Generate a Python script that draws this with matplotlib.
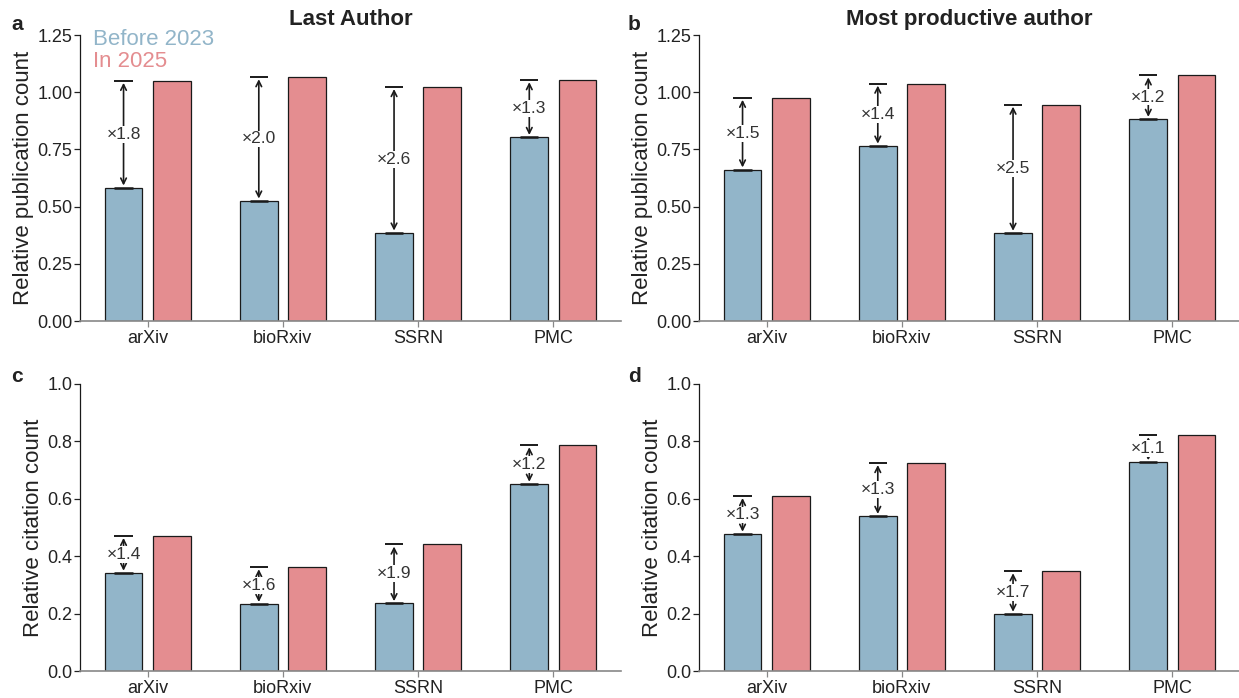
import matplotlib
matplotlib.use("Agg")
import matplotlib.pyplot as plt
import numpy as np

plt.rcParams['font.family'] = ['Liberation Sans', 'DejaVu Sans']

categories = ["arXiv", "bioRxiv", "SSRN", "PMC"]

# Panel a: Last Author, relative publication count
a_before = [0.583, 0.526, 0.386, 0.804]
a_2025 = [1.050, 1.066, 1.023, 1.053]
a_ratio = ["1.8", "2.0", "2.6", "1.3"]

# Panel b: Most productive author, relative publication count
b_before = [0.662, 0.766, 0.385, 0.883]
b_2025 = [0.976, 1.038, 0.946, 1.074]
b_ratio = ["1.5", "1.4", "2.5", "1.2"]

# Panel c: Last Author, relative citation count
c_before = [0.342, 0.233, 0.236, 0.652]
c_2025 = [0.471, 0.362, 0.441, 0.787]
c_ratio = ["1.4", "1.6", "1.9", "1.2"]

# Panel d: Most productive author, relative citation count
d_before = [0.478, 0.540, 0.199, 0.727]
d_2025 = [0.610, 0.725, 0.348, 0.822]
d_ratio = ["1.3", "1.3", "1.7", "1.1"]

legend_labels = ["Before 2023", "In 2025"]
titles = ["Last Author", "Most productive author"]
ylabels = ["Relative publication count", "Relative citation count"]

BLUE = "#92B5C9"
RED = "#E48D90"
DARK = "#222222"

fig = plt.figure(figsize=(12.39, 6.98), dpi=100)

W = 541 / 1239
H_top = 286 / 698
H_bot = 287 / 698
axes = {
    'a': fig.add_axes([80 / 1239, 1 - 321 / 698, W, H_top]),
    'b': fig.add_axes([699 / 1239, 1 - 321 / 698, W, H_top]),
    'c': fig.add_axes([80 / 1239, 1 - 671 / 698, W, H_bot]),
    'd': fig.add_axes([699 / 1239, 1 - 671 / 698, W, H_bot]),
}

panels = [
    ('a', a_before, a_2025, a_ratio, ylabels[0], (0, 1.25), [0, 0.25, 0.5, 0.75, 1.0, 1.25], "{:.2f}"),
    ('b', b_before, b_2025, b_ratio, ylabels[0], (0, 1.25), [0, 0.25, 0.5, 0.75, 1.0, 1.25], "{:.2f}"),
    ('c', c_before, c_2025, c_ratio, ylabels[1], (0, 1.0), [0, 0.2, 0.4, 0.6, 0.8, 1.0], "{:.1f}"),
    ('d', d_before, d_2025, d_ratio, ylabels[1], (0, 1.0), [0, 0.2, 0.4, 0.6, 0.8, 1.0], "{:.1f}"),
]

off = 0.178
bw = 0.28
x = np.arange(len(categories))

for key, before, after, ratio, ylabel, ylim, yticks, fmt in panels:
    ax = axes[key]
    ax.bar(x - off, before, width=bw, color=BLUE, edgecolor="#1a1a1a", linewidth=0.9, zorder=2)
    ax.bar(x + off, after, width=bw, color=RED, edgecolor="#1a1a1a", linewidth=0.9, zorder=2)
    for i in range(len(categories)):
        xb = x[i] - off
        lo, hi = before[i], after[i]
        ax.hlines([hi], xb - 0.068, xb + 0.068, color="#1a1a1a", linewidth=1.4, zorder=3)
        ax.hlines([lo], xb - 0.068, xb + 0.068, color="#1a1a1a", linewidth=1.8, zorder=3)
        ax.annotate("", xy=(xb, hi), xytext=(xb, lo),
                    arrowprops=dict(arrowstyle="<->", color="#1a1a1a", lw=1.2,
                                    shrinkA=1.5, shrinkB=1.5, mutation_scale=10),
                    zorder=3)
        ax.text(xb, (lo + hi) / 2, "\u00d7" + ratio[i], ha="center", va="center",
                fontsize=12.5, color="#333333", zorder=4,
                bbox=dict(boxstyle="square,pad=0.05", facecolor="white", edgecolor="none"))
    ax.set_xlim(-0.5, 3.5)
    ax.set_ylim(*ylim)
    ax.set_yticks(yticks)
    ax.set_yticklabels([fmt.format(v) for v in yticks])
    ax.set_xticks(x)
    ax.set_xticklabels(categories)
    ax.tick_params(axis='y', labelsize=13, length=4, width=0.9, colors=DARK, pad=1.5)
    ax.tick_params(axis='x', labelsize=13, length=4, width=0.9, color="#888888",
                   labelcolor=DARK, pad=2.5)
    ax.spines['top'].set_visible(False)
    ax.spines['right'].set_visible(False)
    ax.spines['left'].set_color("#1a1a1a")
    ax.spines['left'].set_linewidth(0.9)
    ax.spines['bottom'].set_color("#888888")
    ax.spines['bottom'].set_linewidth(1.2)
    ax.set_ylabel(ylabel, fontsize=16, color=DARK, labelpad=2)

axes['a'].set_title(titles[0], fontsize=16, fontweight="bold", pad=7, color=DARK)
axes['b'].set_title(titles[1], fontsize=16, fontweight="bold", pad=7, color=DARK)

axes['a'].text(0.024, 1.02, legend_labels[0], transform=axes['a'].transAxes,
               color=BLUE, fontsize=16, ha="left", va="top")
axes['a'].text(0.024, 0.945, legend_labels[1], transform=axes['a'].transAxes,
               color=RED, fontsize=16, ha="left", va="top")

for lab, (px, py) in zip("abcd", [(11, 30), (628, 30), (11, 382), (628, 382)]):
    fig.text(px / 1239, 1 - py / 698, lab, fontsize=15, fontweight="bold", ha="left",
             va="baseline", color=DARK)

fig.savefig("out.png", dpi=100)
